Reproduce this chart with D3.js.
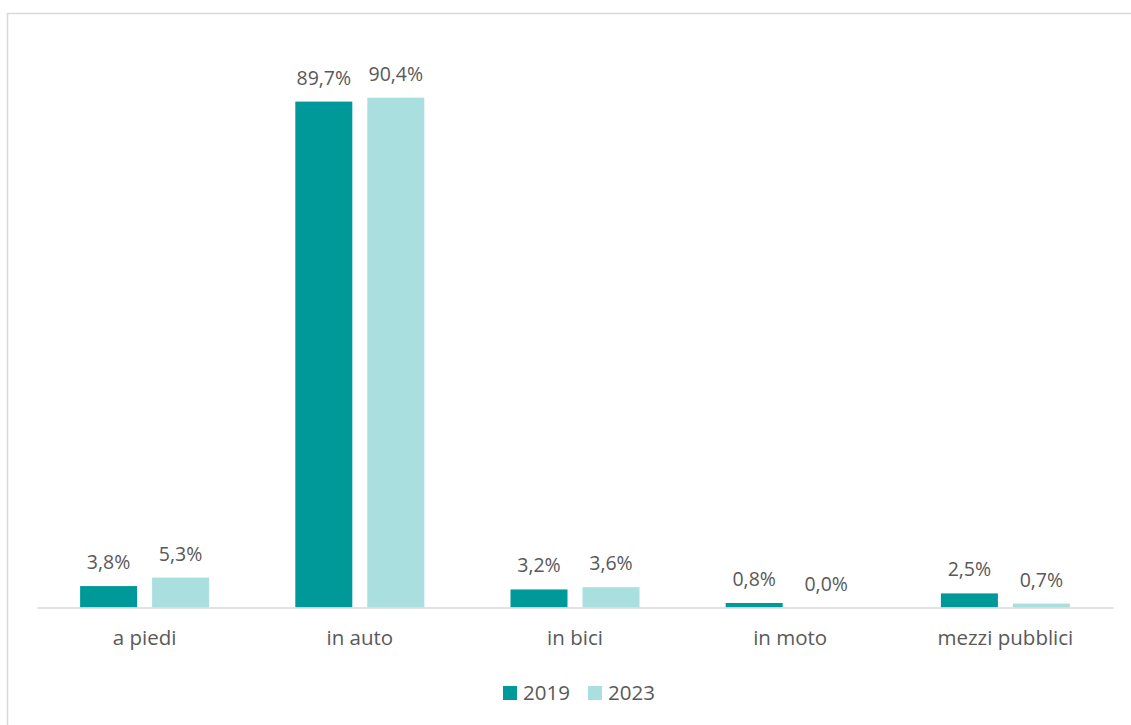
<!DOCTYPE html>
<html>
<head>
<meta charset="utf-8">
<script src="https://cdn.jsdelivr.net/npm/d3@7"></script>
<style>
  html, body { margin: 0; padding: 0; background: #fff; }
  svg { display: block; font-family: "Open Sans", "Liberation Sans", sans-serif; }
</style>
</head>
<body>
<svg id="chart" width="1131" height="725"></svg>
<script>
// Modes of travel, share of trips (%)
const categories = ["a piedi", "in auto", "in bici", "in moto", "mezzi pubblici"];
const seriesNames = ["2019", "2023"];
const values2019 = [3.8, 89.7, 3.2, 0.8, 2.5];
const values2023 = [5.3, 90.4, 3.6, 0.0, 0.7];
const seriesColors = ["#009999", "#A9DFDF"];

const W = 1131, H = 725;
const plot = { left: 37, right: 1113, top: 43.5, bottom: 607.5 };

const svg = d3.select("#chart");

// Outer chart frame
svg.append("rect")
  .attr("x", 7.5).attr("y", 13.5)
  .attr("width", W + 20).attr("height", H + 20)
  .attr("fill", "none").attr("stroke", "#D9D9D9").attr("stroke-width", 1.5);

const x = d3.scaleBand().domain(categories).range([plot.left, plot.right]).padding(0);
const y = d3.scaleLinear().domain([0, 100]).range([plot.bottom, plot.top]);

const barW = 57, innerGap = 15;
const offsets = [-innerGap / 2 - barW, innerGap / 2];
const seriesValues = [values2019, values2023];

const rows = [];
categories.forEach((c, i) => {
  seriesValues.forEach((vals, s) => rows.push({ cat: c, s, v: vals[i] }));
});

// Bars
svg.append("g").selectAll("rect").data(rows).join("rect")
  .attr("x", d => x(d.cat) + x.bandwidth() / 2 + offsets[d.s])
  .attr("y", d => y(d.v))
  .attr("width", barW)
  .attr("height", d => y(0) - y(d.v))
  .attr("fill", d => seriesColors[d.s]);

// Category axis
const axis = svg.append("g")
  .attr("transform", `translate(0,${plot.bottom})`)
  .call(d3.axisBottom(x).tickSize(0).tickPadding(23));
axis.select(".domain").attr("stroke", "#D9D9D9").attr("stroke-width", 1.5);
axis.selectAll("text")
  .attr("fill", "#595959")
  .style("font-size", "20.5px")
  .style("font-family", "\"Open Sans\", sans-serif");

// Value labels
const fmt = v => v.toFixed(1).replace(".", ",") + "%";
svg.append("g").selectAll("text").data(rows).join("text")
  .attr("x", d => x(d.cat) + x.bandwidth() / 2 + offsets[d.s] + barW / 2)
  .attr("y", d => y(d.v) - 17)
  .attr("text-anchor", "middle")
  .attr("fill", "#595959")
  .style("font-size", "19.5px")
  .text(d => fmt(d.v));

// Legend
const legend = svg.append("g").attr("transform", "translate(503,686)");
const legendX = [0, 85];
seriesNames.forEach((name, i) => {
  const g = legend.append("g").attr("transform", `translate(${legendX[i]},0)`);
  g.append("rect").attr("width", 14).attr("height", 14).attr("fill", seriesColors[i]);
  g.append("text").attr("x", 20).attr("y", 14)
    .attr("fill", "#595959").style("font-size", "20.5px").text(name);
});
</script>
</body>
</html>
